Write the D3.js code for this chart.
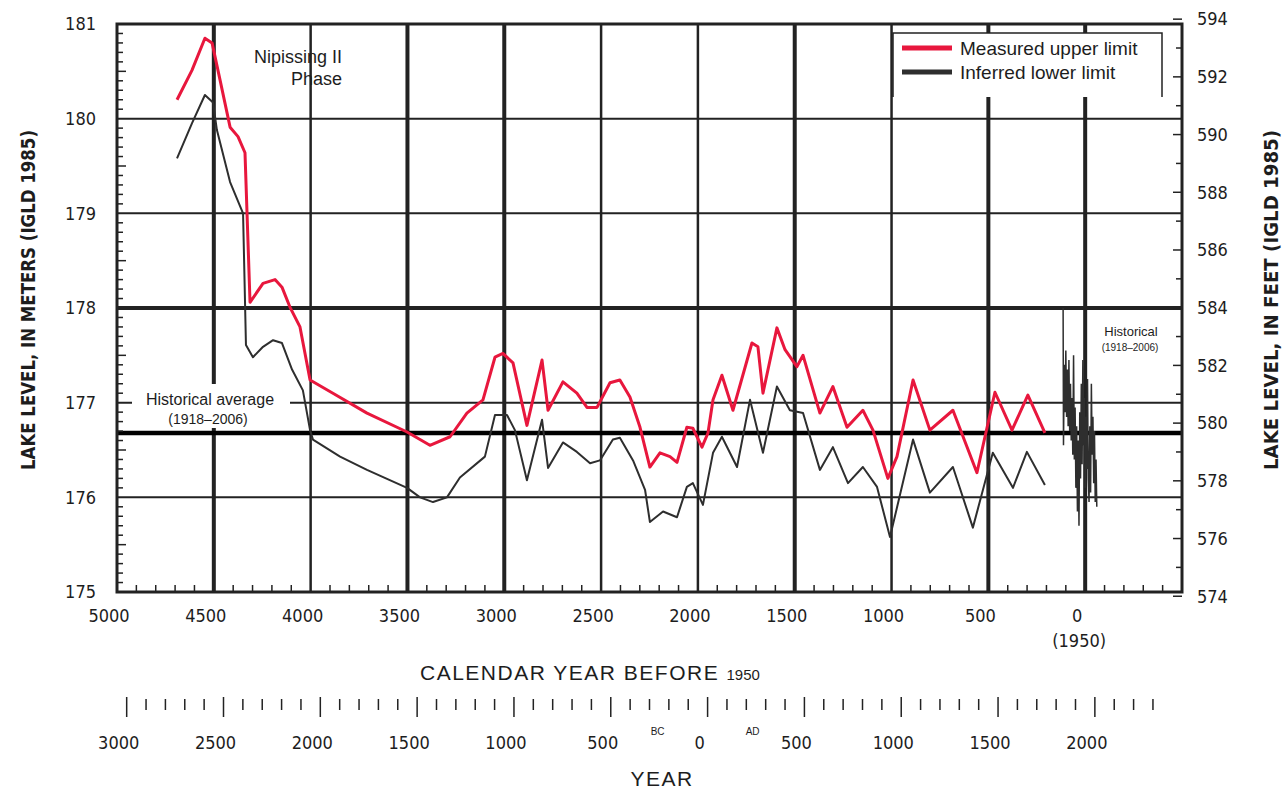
<!DOCTYPE html>
<html>
<head>
<meta charset="utf-8">
<script src="https://cdn.jsdelivr.net/npm/d3@7"></script>
<style>
  body { margin: 0; background: #fff; }
  text { fill: #1d1d1d; }
  .tick-label { font-family: "Liberation Sans Narrow", "DejaVu Sans Condensed", "Arial Narrow", sans-serif; font-size: 18px; }
  .note { font-family: "Liberation Sans", Arial, sans-serif; }
</style>
</head>
<body>
<svg width="1288" height="791"></svg>
<script>
// measured upper limit [years before 1950, metres]
const upperLimit = [
  [4690, 180.20], [4613, 180.51], [4546, 180.85], [4509, 180.80], [4468, 180.41],
  [4416, 179.91], [4375, 179.81], [4339, 179.64], [4313, 178.06], [4246, 178.26],
  [4184, 178.30], [4148, 178.22], [4107, 178.01], [4055, 177.80], [4003, 177.24],
  [3885, 177.10], [3709, 176.89], [3502, 176.69], [3384, 176.55], [3280, 176.64],
  [3193, 176.89], [3110, 177.03], [3048, 177.48], [3007, 177.52], [2955, 177.42],
  [2883, 176.76], [2805, 177.45], [2774, 176.92], [2697, 177.22], [2625, 177.10],
  [2573, 176.95], [2521, 176.95], [2454, 177.21], [2403, 177.24], [2351, 177.06],
  [2299, 176.74], [2248, 176.32], [2196, 176.47], [2144, 176.43], [2108, 176.37],
  [2057, 176.74], [2026, 176.73], [1979, 176.53], [1948, 176.68], [1922, 177.03],
  [1876, 177.29], [1819, 176.92], [1721, 177.63], [1690, 177.59], [1664, 177.10],
  [1592, 177.79], [1550, 177.56], [1489, 177.38], [1457, 177.50], [1370, 176.89],
  [1303, 177.17], [1230, 176.74], [1148, 176.92], [1096, 176.71], [1019, 176.20],
  [972, 176.43], [889, 177.24], [802, 176.71], [683, 176.92], [559, 176.26],
  [466, 177.11], [378, 176.71], [296, 177.08], [208, 176.68]
];

// inferred lower limit
const lowerLimit = [
  [4690, 179.58], [4613, 179.95], [4546, 180.25], [4504, 180.17], [4484, 179.88],
  [4416, 179.33], [4349, 179.00], [4334, 177.61], [4298, 177.48], [4246, 177.59],
  [4194, 177.66], [4148, 177.63], [4096, 177.35], [4040, 177.13], [4003, 176.71],
  [3988, 176.61], [3848, 176.43], [3709, 176.29], [3502, 176.10], [3435, 176.00],
  [3368, 175.95], [3296, 176.00], [3229, 176.21], [3100, 176.43], [3048, 176.87],
  [2986, 176.87], [2945, 176.71], [2883, 176.18], [2805, 176.82], [2774, 176.31],
  [2697, 176.58], [2625, 176.48], [2557, 176.36], [2506, 176.39], [2439, 176.61],
  [2403, 176.63], [2335, 176.39], [2273, 176.08], [2248, 175.74], [2180, 175.85],
  [2108, 175.79], [2057, 176.11], [2026, 176.15], [1974, 175.92], [1922, 176.47],
  [1876, 176.64], [1798, 176.32], [1731, 177.03], [1664, 176.47], [1592, 177.17],
  [1525, 176.92], [1457, 176.89], [1370, 176.29], [1303, 176.53], [1225, 176.15],
  [1148, 176.32], [1075, 176.11], [1008, 175.58], [889, 176.61], [802, 176.05],
  [683, 176.32], [580, 175.68], [477, 176.47], [373, 176.10], [301, 176.48],
  [208, 176.13]
];

// historical gauge record
const historical = [
  [114, 178.00], [112, 176.55], [108, 177.40], [104, 176.90], [100, 177.55],
  [96, 176.85], [92, 177.35], [88, 176.75], [84, 177.45], [80, 176.70],
  [76, 177.20], [72, 176.60], [68, 177.05], [64, 176.45], [60, 177.50],
  [56, 176.40], [52, 176.95], [48, 176.10], [44, 176.75], [40, 175.85],
  [36, 176.60], [32, 175.70], [28, 176.90], [24, 176.20], [20, 177.20],
  [16, 176.35], [12, 177.45], [8, 176.55], [4, 177.05], [0, 176.10],
  [-4, 176.85], [-8, 176.30], [-12, 177.25], [-16, 176.20], [-20, 175.95],
  [-24, 176.75], [-28, 176.05], [-32, 177.20], [-36, 176.45], [-40, 176.85],
  [-44, 176.15], [-48, 176.70], [-52, 175.95], [-56, 176.40], [-60, 175.90]
];

const historicalAverage = 176.68;

const bpTicks = [5000, 4500, 4000, 3500, 3000, 2500, 2000, 1500, 1000, 500, 0];
const bpThick = [4500, 3500, 3000, 1500, 500, 0];
const meterTicks = [175, 176, 177, 178, 179, 180, 181];
const feetTicks = [574, 576, 578, 580, 582, 584, 586, 588, 590, 592, 594];
const calendarTicks = [-3000, -2500, -2000, -1500, -1000, -500, 0, 500, 1000, 1500, 2000];
const calendarLabels = ["3000", "2500", "2000", "1500", "1000", "500", "0", "500", "1000", "1500", "2000"];

const M_TO_FT = 3.28084;

const svg = d3.select("svg");
const plotLeft = 117, plotRight = 1182, plotTop = 24, plotBottom = 592;

const x = d3.scaleLinear().domain([5000, -500]).range([plotLeft, plotRight]);
const y = d3.scaleLinear().domain([175, 181]).range([plotBottom, plotTop]);
const yFeet = d3.scaleLinear().domain([175 * M_TO_FT, 181 * M_TO_FT]).range([plotBottom, plotTop]);
const xCal = d3.scaleLinear().domain([1950 - 5000, 1950 + 500]).range([plotLeft, plotRight]);

svg.append("rect").attr("width", 1288).attr("height", 791).attr("fill", "#fff");

// grid
const grid = svg.append("g").attr("stroke", "#222");
grid.selectAll(".vline")
  .data(bpTicks.filter((d) => d !== 5000))
  .join("line")
  .attr("x1", (d) => x(d)).attr("x2", (d) => x(d))
  .attr("y1", plotTop).attr("y2", plotBottom)
  .attr("stroke-width", (d) => (bpThick.includes(d) ? 4 : 2.5));

grid.selectAll(".hline")
  .data(meterTicks.filter((d) => d > 175 && d < 181))
  .join("line")
  .attr("x1", plotLeft).attr("x2", plotRight)
  .attr("y1", (d) => y(d)).attr("y2", (d) => y(d))
  .attr("stroke-width", (d) => (d === 178 ? 4 : 2));

grid.append("line")
  .attr("x1", plotLeft).attr("x2", plotRight)
  .attr("y1", y(historicalAverage)).attr("y2", y(historicalAverage))
  .attr("stroke", "#000")
  .attr("stroke-width", 4.5);

// labels inside the plot
svg.append("rect")
  .attr("x", 132).attr("y", 384).attr("width", 158).attr("height", 44)
  .attr("fill", "#fff");
const avgLabel = svg.append("text").attr("class", "note").attr("text-anchor", "middle");
avgLabel.append("tspan").attr("x", 210).attr("y", 405).attr("font-size", 16).text("Historical average");
avgLabel.append("tspan").attr("x", 208).attr("y", 424).attr("font-size", 14).text("(1918–2006)");

const nip = svg.append("text").attr("class", "note").attr("font-size", 18).attr("text-anchor", "end");
nip.append("tspan").attr("x", 342).attr("y", 63).text("Nipissing II");
nip.append("tspan").attr("x", 342).attr("y", 85).text("Phase");

const hist = svg.append("text").attr("class", "note").attr("text-anchor", "middle");
hist.append("tspan").attr("x", 1131).attr("y", 336).attr("font-size", 13).text("Historical");
hist.append("tspan").attr("x", 1130).attr("y", 351).attr("font-size", 10).text("(1918–2006)");

// series
const line = d3.line().x((d) => x(d[0])).y((d) => y(d[1]));

svg.append("path")
  .datum(lowerLimit)
  .attr("d", line)
  .attr("fill", "none")
  .attr("stroke", "#2e2e2e")
  .attr("stroke-width", 2)
  .attr("stroke-linejoin", "round");

svg.append("path")
  .datum(upperLimit)
  .attr("d", line)
  .attr("fill", "none")
  .attr("stroke", "#e8173d")
  .attr("stroke-width", 3)
  .attr("stroke-linejoin", "round");

svg.append("path")
  .datum(historical)
  .attr("d", line)
  .attr("fill", "none")
  .attr("stroke", "#2e2e2e")
  .attr("stroke-width", 1.5);

// legend
svg.append("path")
  .attr("d", "M893,97V33H1162V97")
  .attr("fill", "#fff")
  .attr("stroke", "#222")
  .attr("stroke-width", 1.5);
const legendItems = [
  { label: "Measured upper limit", color: "#e8173d" },
  { label: "Inferred lower limit", color: "#2e2e2e" },
];
const legend = svg.append("g")
  .selectAll("g")
  .data(legendItems)
  .join("g")
  .attr("transform", (d, i) => `translate(902,${48 + i * 24})`);
legend.append("line")
  .attr("x1", 0).attr("x2", 50)
  .attr("stroke", (d) => d.color)
  .attr("stroke-width", 5);
legend.append("text")
  .attr("class", "note")
  .attr("x", 58).attr("dy", "0.35em")
  .attr("font-size", 19)
  .text((d) => d.label);

// frame
svg.append("rect")
  .attr("x", plotLeft).attr("y", plotTop)
  .attr("width", plotRight - plotLeft).attr("height", plotBottom - plotTop)
  .attr("fill", "none")
  .attr("stroke", "#222")
  .attr("stroke-width", 3);

// minor ticks
const ticks = svg.append("g").attr("stroke", "#222").attr("stroke-width", 1.5);
ticks.selectAll(".ym")
  .data(d3.range(1751, 1810).map((d) => d / 10).filter((d) => Math.round(d * 10) % 10 !== 0))
  .join("line")
  .attr("x1", plotLeft).attr("x2", (d) => plotLeft + (Math.round(d * 10) % 5 === 0 ? 9 : 6))
  .attr("y1", (d) => y(d)).attr("y2", (d) => y(d));

ticks.selectAll(".xm")
  .data(d3.range(4900, -500, -100).filter((d) => d % 500 !== 0))
  .join("line")
  .attr("x1", (d) => x(d)).attr("x2", (d) => x(d))
  .attr("y1", plotBottom).attr("y2", plotBottom - 7);

ticks.selectAll(".ft")
  .data(d3.range(574, 595))
  .join("line")
  .attr("x1", plotRight).attr("x2", (d) => plotRight - (d % 2 === 0 ? 9 : 6))
  .attr("y1", (d) => yFeet(d)).attr("y2", (d) => yFeet(d));

// axis labels
svg.append("g")
  .selectAll("text")
  .data(meterTicks)
  .join("text")
  .attr("class", "tick-label")
  .attr("x", 96).attr("y", (d) => y(d)).attr("dy", "0.35em")
  .attr("text-anchor", "end")
  .text((d) => d);

svg.append("g")
  .selectAll("text")
  .data(feetTicks)
  .join("text")
  .attr("class", "tick-label")
  .attr("x", 1197).attr("y", (d) => yFeet(d)).attr("dy", "0.35em")
  .text((d) => d);

svg.append("g")
  .selectAll("text")
  .data(bpTicks)
  .join("text")
  .attr("class", "tick-label")
  .attr("x", (d) => x(d) - 8).attr("y", 622)
  .attr("text-anchor", "middle")
  .text((d) => d);

svg.append("text").attr("class", "tick-label")
  .attr("x", x(0) - 6).attr("y", 647).attr("text-anchor", "middle")
  .attr("font-size", 15).text("(1950)");

svg.append("text")
  .attr("class", "note")
  .attr("x", 420).attr("y", 680)
  .attr("font-size", 21)
  .attr("letter-spacing", 1.5)
  .call((t) => {
    t.append("tspan").text("CALENDAR YEAR BEFORE ");
    t.append("tspan").attr("font-size", 15).attr("letter-spacing", 0).text("1950");
  });

// calendar year axis
const calAxis = svg.append("g").attr("stroke", "#222").attr("stroke-width", 1.5);
calAxis.selectAll(".cm")
  .data(d3.range(-3000, 2400, 100).filter((d) => d % 500 !== 0))
  .join("line")
  .attr("x1", (d) => xCal(d)).attr("x2", (d) => xCal(d))
  .attr("y1", 699).attr("y2", 710);
calAxis.selectAll(".cM")
  .data(calendarTicks)
  .join("line")
  .attr("x1", (d) => xCal(d)).attr("x2", (d) => xCal(d))
  .attr("y1", 697).attr("y2", 717);

svg.append("g")
  .selectAll("text")
  .data(calendarTicks)
  .join("text")
  .attr("class", "tick-label")
  .attr("x", (d) => xCal(d) - 8).attr("y", 749)
  .attr("text-anchor", "middle")
  .text((d, i) => calendarLabels[i]);

svg.append("text").attr("class", "note").attr("font-size", 10)
  .attr("x", xCal(0) - 50).attr("y", 735).attr("text-anchor", "middle").text("BC");
svg.append("text").attr("class", "note").attr("font-size", 10)
  .attr("x", xCal(0) + 45).attr("y", 735).attr("text-anchor", "middle").text("AD");

svg.append("text")
  .attr("class", "note")
  .attr("x", 662).attr("y", 786)
  .attr("font-size", 21)
  .attr("letter-spacing", 1.5)
  .attr("text-anchor", "middle")
  .text("YEAR");

// axis titles
svg.append("text")
  .attr("transform", "translate(35,300) rotate(-90)")
  .attr("text-anchor", "middle")
  .attr("font-family", "'Liberation Sans Narrow', 'DejaVu Sans Condensed', sans-serif")
  .attr("font-weight", "bold")
  .attr("font-size", 19)
  .attr("textLength", 340)
  .attr("lengthAdjust", "spacingAndGlyphs")
  .text("LAKE LEVEL, IN METERS (IGLD 1985)");

svg.append("text")
  .attr("transform", "translate(1278,300) rotate(-90)")
  .attr("text-anchor", "middle")
  .attr("font-family", "'Liberation Sans Narrow', 'DejaVu Sans Condensed', sans-serif")
  .attr("font-weight", "bold")
  .attr("font-size", 19)
  .attr("textLength", 340)
  .attr("lengthAdjust", "spacingAndGlyphs")
  .text("LAKE LEVEL, IN FEET (IGLD 1985)");
</script>
</body>
</html>
